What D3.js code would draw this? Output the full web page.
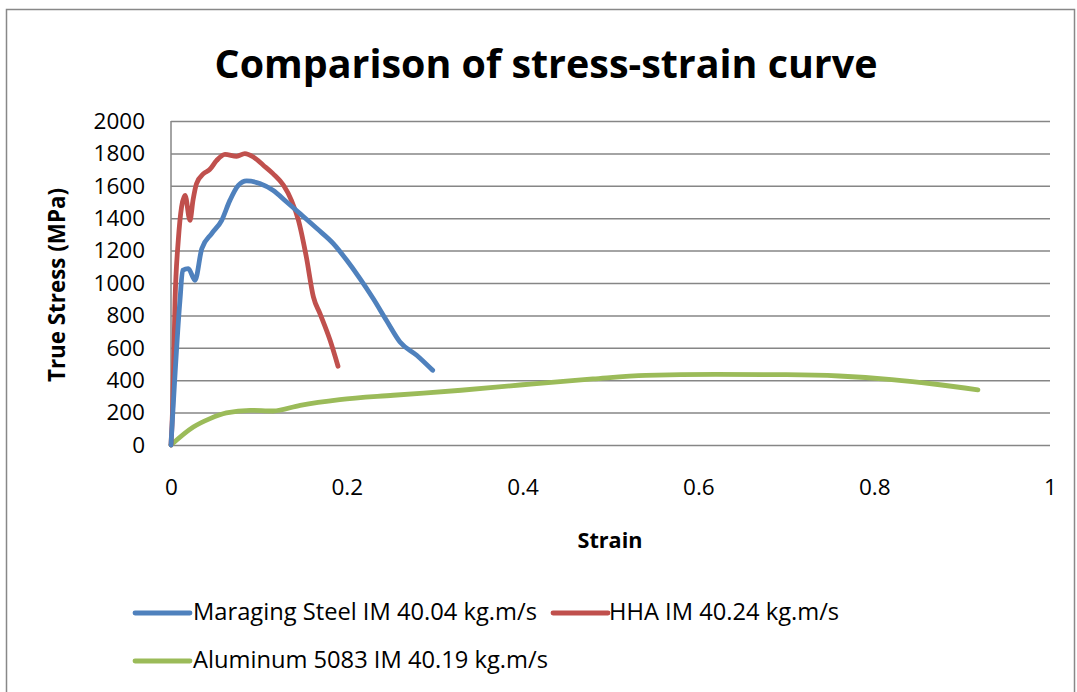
<!DOCTYPE html>
<html>
<head>
<meta charset="utf-8">
<script src="https://cdn.jsdelivr.net/npm/d3@7"></script>
<style>
  html, body { margin: 0; padding: 0; background: #fff; }
  svg { display: block; }
  text { font-family: "Open Sans", "Noto Sans", sans-serif; fill: #000; }
</style>
</head>
<body>
<svg id="chart" width="1077" height="692"></svg>
<script>
// ---- Data ----
const title = "Comparison of stress-strain curve";
const xTitle = "Strain";
const yTitle = "True Stress (MPa)";
const xTicks = [0, 0.2, 0.4, 0.6, 0.8, 1];
const yTicks = [0, 200, 400, 600, 800, 1000, 1200, 1400, 1600, 1800, 2000];
const seriesNames = ["Maraging Steel IM 40.04 kg.m/s", "HHA IM 40.24 kg.m/s", "Aluminum 5083 IM 40.19 kg.m/s"];
const seriesColors = ["#4F81BD", "#C0504D", "#9BBB59"];

const maragingStrain = [0, 0.0102, 0.0133, 0.0197, 0.0273, 0.035, 0.0463, 0.0577, 0.067, 0.0766, 0.086, 0.101, 0.116, 0.1316, 0.1468, 0.166, 0.1847, 0.200, 0.215, 0.230, 0.245, 0.2605, 0.2795, 0.2977];
const maragingStress = [0, 893, 1078, 1089, 1017, 1212, 1305, 1387, 1510, 1603, 1630, 1614, 1572, 1500, 1428, 1336, 1243, 1140, 1027, 904, 770, 636, 554, 461];

const hhaStrain = [0, 0.0019, 0.0046, 0.0083, 0.012, 0.016, 0.0216, 0.025, 0.029, 0.037, 0.044, 0.052, 0.0614, 0.0747, 0.084, 0.0937, 0.105, 0.116, 0.128, 0.137, 0.145, 0.154, 0.162, 0.1695, 0.181, 0.190];
const hhaStress = [0, 235, 893, 1264, 1469, 1541, 1387, 1510, 1613, 1675, 1700, 1757, 1794, 1782, 1799, 1778, 1727, 1675, 1603, 1510, 1387, 1160, 914, 811, 646, 486];

const aluStrain = [0, 0.0254, 0.0444, 0.063, 0.09, 0.116, 0.147, 0.192, 0.253, 0.33, 0.40, 0.48, 0.54, 0.62, 0.70, 0.76, 0.82, 0.87, 0.918];
const aluStress = [0, 111, 163, 198, 214, 210, 245, 280, 307, 338, 372, 408, 430, 436, 434, 426, 404, 375, 340];

// ---- Layout ----
const svg = d3.select("#chart");
const plot = { left: 171, right: 1050, top: 121, bottom: 445 };

const x = d3.scaleLinear().domain([0, 1]).range([plot.left, plot.right]);
const y = d3.scaleLinear().domain([0, 2000]).range([plot.bottom, plot.top]);

function fitWidth(sel, target) {
  const node = sel.node();
  const fs = parseFloat(sel.attr("font-size"));
  const w = node.getComputedTextLength();
  sel.attr("font-size", (fs * target / w).toFixed(2));
}

// outer border
svg.append("rect").attr("x", 6.5).attr("y", 9.5).attr("width", 1068).attr("height", 700)
  .attr("fill", "none").attr("stroke", "#888").attr("stroke-width", 1.5);

// gridlines
const yAxis = d3.axisLeft(y).tickValues(yTicks).tickSize(-(plot.right - plot.left)).tickFormat(d => d).tickPadding(26);
const gy = svg.append("g").attr("transform", `translate(${plot.left},0)`).call(yAxis);
gy.select(".domain").remove();
gy.selectAll(".tick line").attr("stroke", "#868686").attr("stroke-width", 1.5);
gy.selectAll(".tick text").attr("font-size", 22.5).attr("fill", "#000")
  .attr("font-family", "'Open Sans', sans-serif");

// y axis line
svg.append("line").attr("x1", plot.left).attr("x2", plot.left).attr("y1", plot.top).attr("y2", plot.bottom)
  .attr("stroke", "#868686").attr("stroke-width", 1.5);

// x axis tick labels
const xAxis = d3.axisBottom(x).tickValues(xTicks).tickSize(0).tickPadding(34).tickFormat(d => d === 0 ? "0" : (d === 1 ? "1" : d3.format(".1f")(d)));
const gx = svg.append("g").attr("transform", `translate(0,${plot.bottom})`).call(xAxis);
gx.select(".domain").remove();
gx.selectAll(".tick text").attr("font-size", 22.5).attr("fill", "#000");

// series
const series = [
  { name: seriesNames[0], color: seriesColors[0], xs: maragingStrain, ys: maragingStress },
  { name: seriesNames[1], color: seriesColors[1], xs: hhaStrain, ys: hhaStress },
  { name: seriesNames[2], color: seriesColors[2], xs: aluStrain, ys: aluStress }
];
const line = d3.line().x(d => x(d[0])).y(d => y(d[1])).curve(d3.curveMonotoneX);
[2, 1, 0].forEach(i => {
  const s = series[i];
  svg.append("path").datum(s.xs.map((v, k) => [v, s.ys[k]]))
    .attr("d", line).attr("fill", "none").attr("stroke", s.color)
    .attr("stroke-width", 4.8).attr("stroke-linecap", "round").attr("stroke-linejoin", "round");
});

// title
const t = svg.append("text").attr("x", 546).attr("y", 78).attr("text-anchor", "middle")
  .attr("font-weight", "bold").attr("font-size", 40).text(title);
fitWidth(t, 663);

// x title
const xt = svg.append("text").attr("x", 610).attr("y", 548).attr("text-anchor", "middle")
  .attr("font-weight", "bold").attr("font-size", 20).text(xTitle);
fitWidth(xt, 65);

// y title
const yt = svg.append("text").attr("transform", "translate(65,285) rotate(-90)").attr("text-anchor", "middle")
  .attr("font-weight", "bold").attr("font-size", 20).text(yTitle);
fitWidth(yt, 194);

// legend
const legendItems = [
  { i: 0, lx: 135, ly: 613, tx: 193, ty: 620 },
  { i: 1, lx: 553, ly: 613, tx: 609, ty: 620 },
  { i: 2, lx: 135, ly: 661, tx: 193, ty: 668 }
];
let legendFont = null;
legendItems.forEach(it => {
  const s = series[it.i];
  svg.append("line").attr("x1", it.lx).attr("x2", it.lx + 55).attr("y1", it.ly).attr("y2", it.ly)
    .attr("stroke", s.color).attr("stroke-width", 4.8).attr("stroke-linecap", "round");
  const lt = svg.append("text").attr("x", it.tx).attr("y", it.ty).attr("font-size", 20).text(s.name);
  if (legendFont === null) { fitWidth(lt, 344); legendFont = lt.attr("font-size"); }
  else lt.attr("font-size", legendFont);
});
</script>
</body>
</html>
